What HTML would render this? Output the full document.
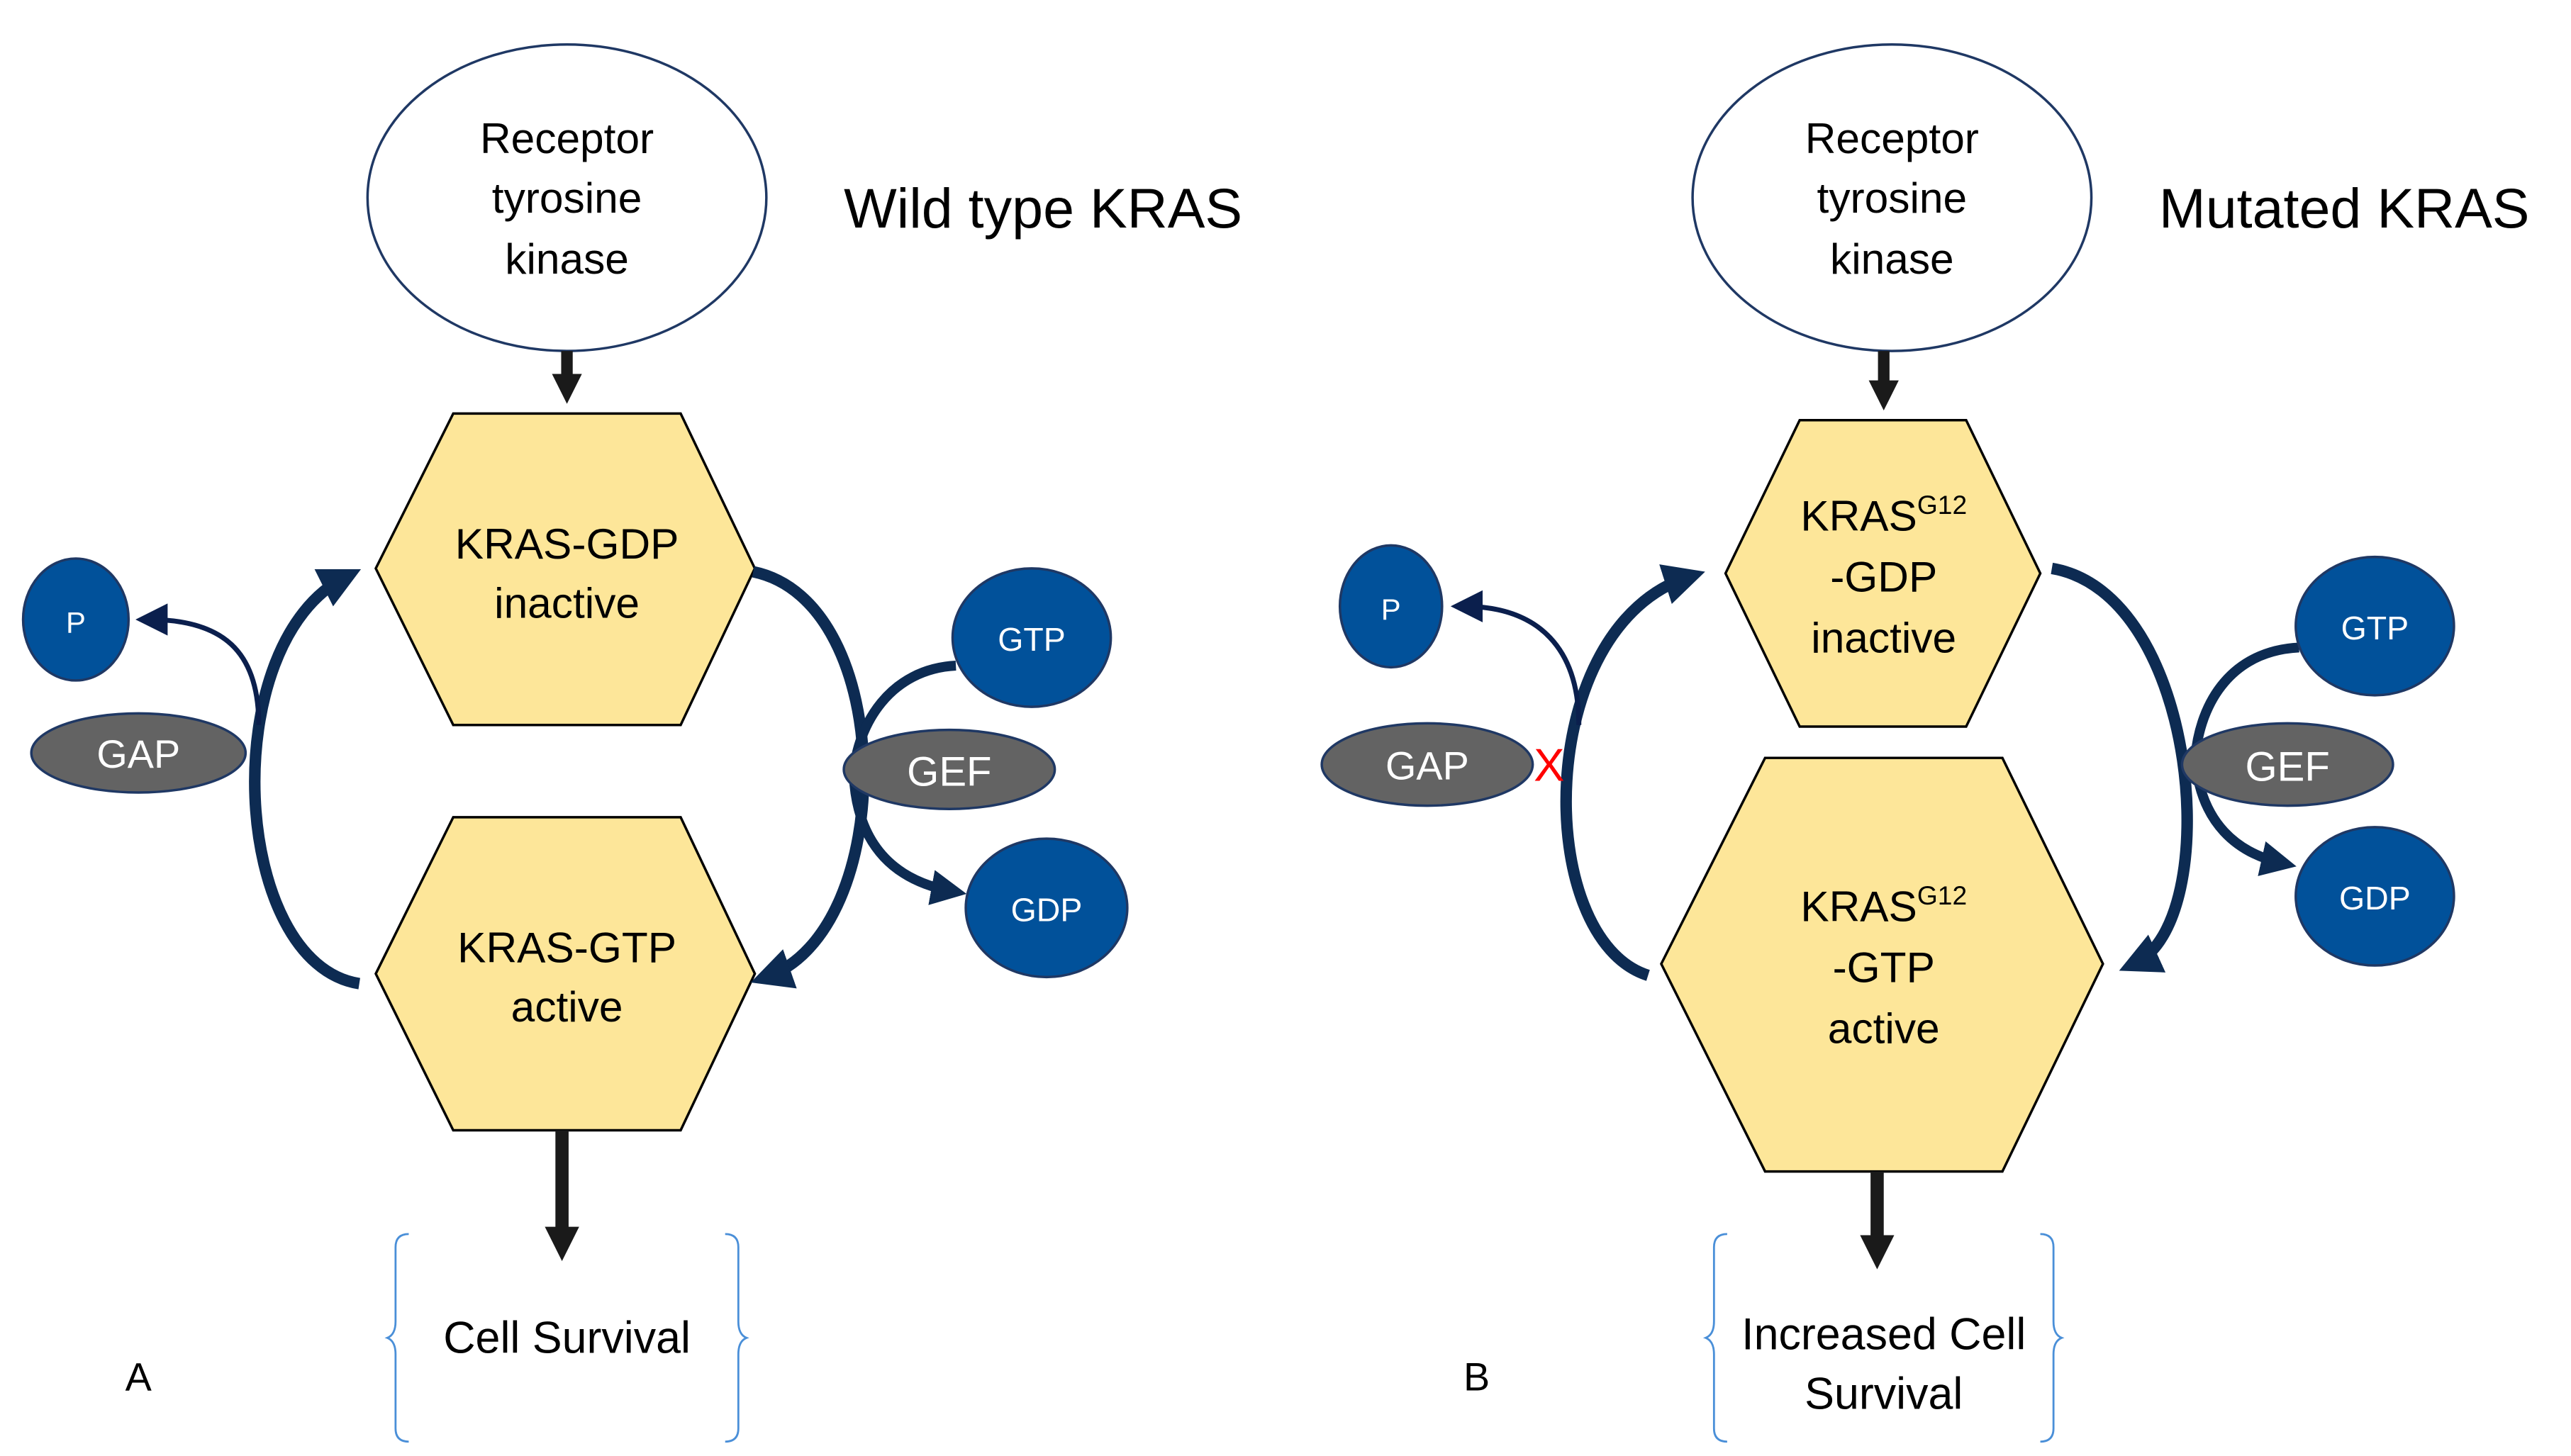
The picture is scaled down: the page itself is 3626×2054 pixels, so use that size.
<!DOCTYPE html>
<html><head><meta charset="utf-8"><style>
html,body{margin:0;padding:0;background:#fff;}
svg{display:block;}
text{font-family:"Liberation Sans",sans-serif;}
</style></head><body>
<svg width="3626" height="2054" viewBox="0 0 1560 883.7" xmlns="http://www.w3.org/2000/svg">
<defs>
<marker id="ah" viewBox="0 0 10 10" refX="6" refY="5" markerWidth="3.6" markerHeight="3.6" orient="auto" markerUnits="strokeWidth"><path d="M0,0 L10,5 L0,10 z" fill="#0d2b52"/></marker>
<marker id="ahs" viewBox="0 0 10 10" refX="6" refY="5" markerWidth="6.5" markerHeight="6.5" orient="auto" markerUnits="strokeWidth"><path d="M0,0 L10,5 L0,10 z" fill="#0b1f4d"/></marker>
<marker id="ahd" viewBox="0 0 10 10" refX="5" refY="5" markerWidth="2.6" markerHeight="2.6" orient="auto" markerUnits="strokeWidth"><path d="M0,0 L10,5 L0,10 z" fill="#1a1a1a"/></marker>
</defs>

<!-- ===== Panel A ===== -->
<ellipse cx="344" cy="120" rx="121" ry="93" fill="#fff" stroke="#1f3864" stroke-width="1.5"/>
<g font-size="26" text-anchor="middle" fill="#000">
<text x="344" y="93">Receptor</text><text x="344" y="129">tyrosine</text><text x="344" y="166">kinase</text>
</g>
<text x="512" y="138" font-size="34">Wild type KRAS</text>
<line x1="344" y1="213" x2="344" y2="236" stroke="#1a1a1a" stroke-width="7" marker-end="url(#ahd)"/>

<polygon points="228,345 275,251 413,251 458,345 413,440 275,440" fill="#fde699" stroke="#000" stroke-width="1.5"/>
<g font-size="26" text-anchor="middle"><text x="344" y="339">KRAS-GDP</text><text x="344" y="375">inactive</text></g>
<polygon points="228,591 275,496 413,496 458,591 413,686 275,686" fill="#fde699" stroke="#000" stroke-width="1.5"/>
<g font-size="26" text-anchor="middle"><text x="344" y="584">KRAS-GTP</text><text x="344" y="620">active</text></g>
<line x1="341" y1="686" x2="341" y2="755" stroke="#1a1a1a" stroke-width="8" marker-end="url(#ahd)"/>

<path d="M248,749 q-8,0 -8,8 v45 q0,8 -5,10 q5,2 5,10 v45 q0,8 8,8" fill="none" stroke="#4a8fd8" stroke-width="1.2"/>
<path d="M440,749 q8,0 8,8 v45 q0,8 5,10 q-5,2 -5,10 v45 q0,8 -8,8" fill="none" stroke="#4a8fd8" stroke-width="1.2"/>
<text x="344" y="821" font-size="27" text-anchor="middle">Cell Survival</text>
<text x="84" y="844" font-size="24" text-anchor="middle">A</text>

<path d="M218,597 C140,585 130,390 210,350" fill="none" stroke="#0d2b52" stroke-width="7" marker-end="url(#ah)"/>
<path d="M157,440 C157,395 135,376 90,376" fill="none" stroke="#0b1f4d" stroke-width="3" marker-end="url(#ahs)"/>
<ellipse cx="46" cy="376" rx="32" ry="37" fill="#01519a" stroke="#1f3864" stroke-width="1.5"/>
<text x="46" y="384" font-size="18" fill="#fff" text-anchor="middle">P</text>
<ellipse cx="84" cy="457" rx="65" ry="24" fill="#636363" stroke="#1f3864" stroke-width="1.5"/>
<text x="84" y="466" font-size="24" fill="#fff" text-anchor="middle">GAP</text>

<path d="M457,347 C545,365 545,565 465,593" fill="none" stroke="#0d2b52" stroke-width="7" marker-end="url(#ah)"/>
<path d="M580,404 C540,406 520,440 518,470 C520,515 545,535 578,541" fill="none" stroke="#0d2b52" stroke-width="6" marker-end="url(#ah)"/>
<ellipse cx="626" cy="387" rx="48" ry="42" fill="#01519a" stroke="#1f3864" stroke-width="1.5"/>
<text x="626" y="395" font-size="20" fill="#fff" text-anchor="middle">GTP</text>
<ellipse cx="576" cy="467" rx="64" ry="24" fill="#636363" stroke="#1f3864" stroke-width="1.5"/>
<text x="576" y="477" font-size="25" fill="#fff" text-anchor="middle">GEF</text>
<ellipse cx="635" cy="551" rx="49" ry="42" fill="#01519a" stroke="#1f3864" stroke-width="1.5"/>
<text x="635" y="559" font-size="20" fill="#fff" text-anchor="middle">GDP</text>

<!-- ===== Panel B ===== -->
<ellipse cx="1148" cy="120" rx="121" ry="93" fill="#fff" stroke="#1f3864" stroke-width="1.5"/>
<g font-size="26" text-anchor="middle"><text x="1148" y="93">Receptor</text><text x="1148" y="129">tyrosine</text><text x="1148" y="166">kinase</text></g>
<text x="1310" y="138" font-size="34">Mutated KRAS</text>
<line x1="1143" y1="213" x2="1143" y2="240" stroke="#1a1a1a" stroke-width="7" marker-end="url(#ahd)"/>

<polygon points="1047,348 1092,255 1193,255 1238,348 1193,441 1092,441" fill="#fde699" stroke="#000" stroke-width="1.5"/>
<g font-size="26" text-anchor="middle">
<text x="1143" y="322">KRAS<tspan font-size="16" dy="-10">G12</tspan></text>
<text x="1143" y="359">-GDP</text><text x="1143" y="396">inactive</text></g>
<polygon points="1008,585 1071,460 1215,460 1276,585 1215,711 1071,711" fill="#fde699" stroke="#000" stroke-width="1.5"/>
<g font-size="26" text-anchor="middle">
<text x="1143" y="559">KRAS<tspan font-size="16" dy="-10">G12</tspan></text>
<text x="1143" y="596">-GTP</text><text x="1143" y="633">active</text></g>
<line x1="1139" y1="711" x2="1139" y2="760" stroke="#1a1a1a" stroke-width="8" marker-end="url(#ahd)"/>

<path d="M1048,749 q-8,0 -8,8 v45 q0,8 -5,10 q5,2 5,10 v45 q0,8 8,8" fill="none" stroke="#4a8fd8" stroke-width="1.2"/>
<path d="M1238,749 q8,0 8,8 v45 q0,8 5,10 q-5,2 -5,10 v45 q0,8 -8,8" fill="none" stroke="#4a8fd8" stroke-width="1.2"/>
<g font-size="27" text-anchor="middle"><text x="1143" y="819">Increased Cell</text><text x="1143" y="855">Survival</text></g>
<text x="896" y="844" font-size="24" text-anchor="middle">B</text>

<path d="M1000,592 C930,570 930,380 1025,350" fill="none" stroke="#0d2b52" stroke-width="7" marker-end="url(#ah)"/>
<path d="M958,440 C958,395 935,368 888,368" fill="none" stroke="#0b1f4d" stroke-width="3" marker-end="url(#ahs)"/>
<ellipse cx="844" cy="368" rx="31" ry="37" fill="#01519a" stroke="#1f3864" stroke-width="1.5"/>
<text x="844" y="376" font-size="18" fill="#fff" text-anchor="middle">P</text>
<ellipse cx="866" cy="464" rx="64" ry="25" fill="#636363" stroke="#1f3864" stroke-width="1.5"/>
<text x="866" y="473" font-size="24" fill="#fff" text-anchor="middle">GAP</text>
<text x="940" y="474" font-size="28" fill="#ff0000" text-anchor="middle">X</text>

<path d="M1245,345 C1335,360 1350,560 1295,585" fill="none" stroke="#0d2b52" stroke-width="7" marker-end="url(#ah)"/>
<path d="M1395,393 C1355,395 1335,425 1332,460 C1335,500 1358,518 1385,524" fill="none" stroke="#0d2b52" stroke-width="6" marker-end="url(#ah)"/>
<ellipse cx="1441" cy="380" rx="48" ry="42" fill="#01519a" stroke="#1f3864" stroke-width="1.5"/>
<text x="1441" y="388" font-size="20" fill="#fff" text-anchor="middle">GTP</text>
<ellipse cx="1388" cy="464" rx="64" ry="25" fill="#636363" stroke="#1f3864" stroke-width="1.5"/>
<text x="1388" y="474" font-size="25" fill="#fff" text-anchor="middle">GEF</text>
<ellipse cx="1441" cy="544" rx="48" ry="42" fill="#01519a" stroke="#1f3864" stroke-width="1.5"/>
<text x="1441" y="552" font-size="20" fill="#fff" text-anchor="middle">GDP</text>
</svg>
</body></html>
